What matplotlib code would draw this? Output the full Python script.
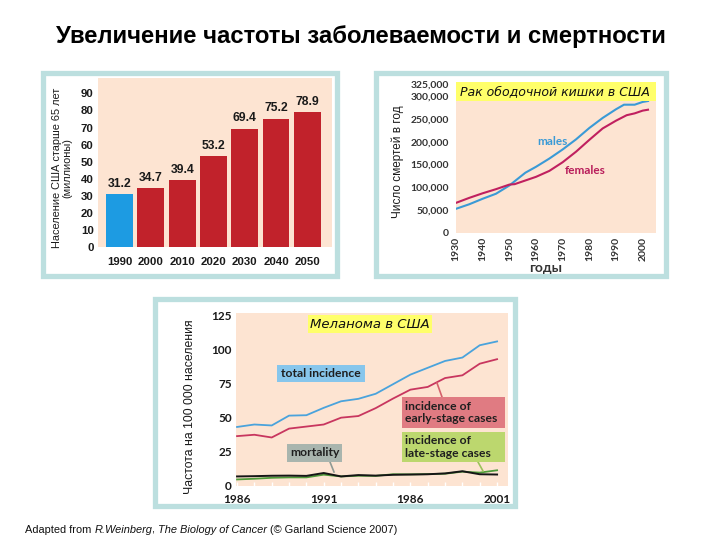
import matplotlib
matplotlib.use('Agg')
import matplotlib.pyplot as plt
from matplotlib.patches import Rectangle
from matplotlib.lines import Line2D

# ---------------- data ----------------
pop_years = ["1990", "2000", "2010", "2020", "2030", "2040", "2050"]
pop_values = [31.2, 34.7, 39.4, 53.2, 69.4, 75.2, 78.9]

colon_years_m = [1930, 1935, 1940, 1945, 1950, 1953, 1956, 1960, 1965, 1970,
                 1975, 1980, 1985, 1990, 1993, 1997, 2000, 2002]
colon_males = [53, 63, 75, 86, 104, 118, 132, 145, 163, 183,
               205, 230, 252, 271, 281, 281, 287, 289]          # thousands
colon_years_f = [1930, 1935, 1940, 1945, 1950, 1952, 1955, 1960, 1965, 1970,
                 1975, 1980, 1985, 1990, 1994, 1997, 2000, 2002]
colon_females = [66, 77, 87, 96, 106, 107, 113, 123, 136, 155,
                 178, 204, 229, 246, 258, 262, 268, 270]        # thousands
colon_yticks = [0, 50, 100, 150, 200, 250, 300, 325]
colon_xticks = [1930, 1940, 1950, 1960, 1970, 1980, 1990, 2000]

mel_years = list(range(1986, 2002))
mel_total = [43.2, 45.0, 44.3, 51.5, 51.8, 57.2, 62.0, 63.8, 67.5, 74.5,
             81.5, 86.5, 91.5, 94.0, 103.0, 105.8]
mel_early = [36.5, 37.5, 35.5, 42.0, 43.5, 45.0, 50.0, 51.2, 57.0, 64.0,
             70.5, 72.5, 79.0, 81.0, 89.5, 92.8]
mel_mortality = [7.0, 7.2, 7.5, 7.6, 7.4, 9.5, 7.0, 8.0, 7.6, 8.2,
                 8.4, 8.6, 9.2, 10.8, 8.6, 8.4]
mel_late = [4.8, 5.3, 6.0, 6.3, 6.3, 8.3, 7.0, 7.5, 7.4, 8.6,
            8.5, 8.7, 9.0, 10.5, 9.8, 11.5]
mel_xticks = [1986, 1991, 1996, 2001]
mel_xticklabels = ["1986", "1991", "1986", "2001"]
mel_yticks = [0, 25, 50, 75, 100, 125]

# ---------------- style ----------------
W, H = 720, 540
PEACH = '#fde4d2'
FRAME = '#bcdfdf'
SANS = ['Liberation Sans', 'DejaVu Sans']
LAT = ['Lato', 'DejaVu Sans']
HAND = ['DejaVu Sans']

fig = plt.figure(figsize=(7.2, 5.4), dpi=100)
fig.patch.set_facecolor('white')


def ax_at(x0, y0, x1, y1):
    return fig.add_axes([x0 / W, 1 - y1 / H, (x1 - x0) / W, (y1 - y0) / H])


def frame(x0, y0, x1, y1):
    fig.add_artist(Rectangle((x0 / W, 1 - y1 / H), (x1 - x0) / W, (y1 - y0) / H,
                             transform=fig.transFigure, fill=False,
                             edgecolor=FRAME, linewidth=3.8, zorder=0))


def ftext(px, py, s, **kw):
    return fig.text(px / W, 1 - py / H, s, **kw)


def clean(ax):
    for s in ax.spines.values():
        s.set_visible(False)


# frames
frame(42.5, 72.5, 336.5, 275.5)
frame(375.5, 72.5, 665.5, 275.5)
frame(154.5, 298.5, 514.5, 505.5)

# title
ftext(361, 36, "Увеличение частоты заболеваемости и смертности",
      ha='center', va='center', fontsize=17.2, fontweight='bold', family=SANS)

# ---------------- panel 1 ----------------
ax1 = ax_at(98, 78, 332, 247)
ax1.set_facecolor(PEACH)
xs = list(range(len(pop_years)))
ax1.bar(xs, pop_values, width=0.86, color=['#1d9be2'] + ['#c1222b'] * 6)
ax1.set_xlim(-0.69, 6.79)
ax1.set_ylim(0, 99)
ax1.set_yticks(range(0, 91, 10))
ax1.set_xticks(xs, pop_years)
clean(ax1)
ax1.tick_params(axis='both', length=0)
ax1.tick_params(axis='x', pad=7)
ax1.tick_params(axis='y', pad=3)
for lab in ax1.get_xticklabels() + ax1.get_yticklabels():
    lab.set_family(SANS)
    lab.set_fontweight('bold')
    lab.set_fontsize(8.2)
    lab.set_color('#1a1a1a')
for xi, v in zip(xs, pop_values):
    ax1.annotate(f"{v}", (xi, v), xytext=(0, 3), textcoords='offset points',
                 ha='center', va='bottom', fontsize=8.7, fontweight='bold',
                 family=SANS, color='#1a1a1a')
ftext(62, 168, "Население США старше 65 лет\n(миллионы)", rotation=90,
      ha='center', va='center', multialignment='center', fontsize=7.9,
      family=SANS, linespacing=1.05, color='#1a1a1a')

# ---------------- panel 2 ----------------
ax2 = ax_at(456, 82, 656, 233)
ax2.set_facecolor(PEACH)
ax2.plot(colon_years_m, colon_males, color='#3a9ad6', lw=1.5, zorder=3)
ax2.plot(colon_years_f, colon_females, color='#c0205f', lw=1.5, zorder=3)
ax2.set_xlim(1930, 2005)
ax2.set_ylim(0, 330.7)
clean(ax2)
ax2.set_yticks(colon_yticks, [f"{t * 1000:,}" if t else "0" for t in colon_yticks])
ax2.set_xticks(colon_xticks, [str(t) for t in colon_xticks])
ax2.tick_params(axis='both', length=0)
ax2.tick_params(axis='y', pad=5)
ax2.tick_params(axis='x', pad=3, labelrotation=90)
for lab in ax2.get_xticklabels() + ax2.get_yticklabels():
    lab.set_family(LAT)
    lab.set_fontweight('bold')
    lab.set_fontsize(7.5)
    lab.set_color('#333333')
ax2.add_patch(Rectangle((0, 0.874), 1, 0.126, transform=ax2.transAxes,
                        facecolor='#ffff6a', edgecolor='none', zorder=4, clip_on=False))
ax2.text(0.495, 0.937, "Рак ободочной кишки в США", transform=ax2.transAxes,
         ha='center', va='center', fontsize=9, style='italic', family=HAND,
         color='#111111', zorder=5)
ax2.text(1966.3, 201, "males", ha='center', va='center', fontsize=8.5,
         fontweight='bold', family=LAT, color='#3a9ad6')
ax2.text(1978.3, 137.6, "females", ha='center', va='center', fontsize=8.5,
         fontweight='bold', family=LAT, color='#b81c5a')
ftext(398, 162, "Число смертей в год", rotation=90, ha='center', va='center',
      fontsize=8.5, family=SANS, color='#1a1a1a')
ftext(546, 268, "годы", ha='center', va='center', fontsize=10,
      fontweight='bold', family=LAT, color='#333333')

# ---------------- panel 3 ----------------
A3 = (236, 313, 508, 486)
ax3 = ax_at(*A3)
ax3.set_facecolor(PEACH)
ax3.plot(mel_years, mel_total, color='#4aa3dc', lw=1.3, zorder=3)
ax3.plot(mel_years, mel_early, color='#c8365f', lw=1.3, zorder=3)
ax3.plot(mel_years, mel_late, color='#4f9a3a', lw=1.3, zorder=3)
ax3.plot(mel_years, mel_mortality, color='#151515', lw=1.4, zorder=3)
ax3.set_xlim(1985.94, 2001.63)
ax3.set_ylim(0, 126.6)
clean(ax3)
ax3.set_yticks(mel_yticks)
ax3.set_xticks(mel_xticks, mel_xticklabels)
ax3.set_xticks(mel_years, minor=True)
ax3.tick_params(axis='y', length=0, pad=3)
ax3.tick_params(axis='x', which='both', direction='in', length=3, width=1,
                color='white', pad=6)
for lab in ax3.get_xticklabels() + ax3.get_yticklabels():
    lab.set_family(LAT)
    lab.set_fontweight('bold')
    lab.set_fontsize(8.5)
    lab.set_color('#1a1a1a')


def p2a(px, py):
    x0, y0, x1, y1 = A3
    return (px - x0) / (x1 - x0), (y1 - py) / (y1 - y0)


def box3(x0, y0, x1, y1, color):
    ax0, ay0 = p2a(x0, y1)
    ax1_, ay1 = p2a(x1, y0)
    ax3.add_patch(Rectangle((ax0, ay0), ax1_ - ax0, ay1 - ay0, transform=ax3.transAxes,
                            facecolor=color, edgecolor='none', zorder=4))


def line3(xa, ya, xb, yb, color):
    a = p2a(xa, ya)
    b = p2a(xb, yb)
    ax3.add_line(Line2D([a[0], b[0]], [a[1], b[1]], transform=ax3.transAxes,
                        color=color, lw=1.2, zorder=4))


def text3(px, py, s, **kw):
    fx, fy = p2a(px, py)
    ax3.text(fx, fy, s, transform=ax3.transAxes, zorder=5, **kw)


box3(308, 315, 432, 333, '#ffff6a')
text3(370, 324, "Меланома в США", ha='center', va='center', fontsize=9.5,
      style='italic', family=HAND, color='#111111')

box3(277, 365, 365, 382, '#87c6ec')
text3(321, 373.5, "total incidence", ha='center', va='center', fontsize=8.7,
      fontweight='bold', family=LAT, color='#1f1f1f')

line3(442, 397, 437, 383, '#d5616c')
box3(402, 397, 505, 428, '#e07b82')
text3(405, 412.5, "incidence of\nearly-stage cases", ha='left', va='center',
      fontsize=8.7, fontweight='bold', family=LAT, color='#1f1f1f', linespacing=1.2)

line3(478, 462, 483, 471, '#9cc25a')
box3(402, 432, 505, 462, '#bcd76e')
text3(405, 447, "incidence of\nlate-stage cases", ha='left', va='center',
      fontsize=8.7, fontweight='bold', family=LAT, color='#1f1f1f', linespacing=1.2)

line3(330, 462, 334, 472, '#8f9a94')
box3(287, 444, 342, 462, '#a9b5ae')
text3(314.5, 453, "mortality", ha='center', va='center', fontsize=8.7,
      fontweight='bold', family=LAT, color='#1f1f1f')

ftext(190, 407, "Частота на 100 000 населения", rotation=90, ha='center',
      va='center', fontsize=8.8, family=SANS, color='#1a1a1a')

# ---------------- footnote ----------------
segments = [("Adapted from ", 'normal'), ("R.Weinberg", 'italic'), (", ", 'normal'),
            ("The Biology of Cancer", 'italic'), (" (© Garland Science 2007)", 'normal')]
renderer = fig.canvas.get_renderer()
xpos = 25
for s, st in segments:
    t = ftext(xpos, 530, s, ha='left', va='center', fontsize=7.9, style=st,
              family=SANS, color='#111111')
    bb = t.get_window_extent(renderer)
    xpos += bb.width

fig.savefig('out.png', dpi=100)
